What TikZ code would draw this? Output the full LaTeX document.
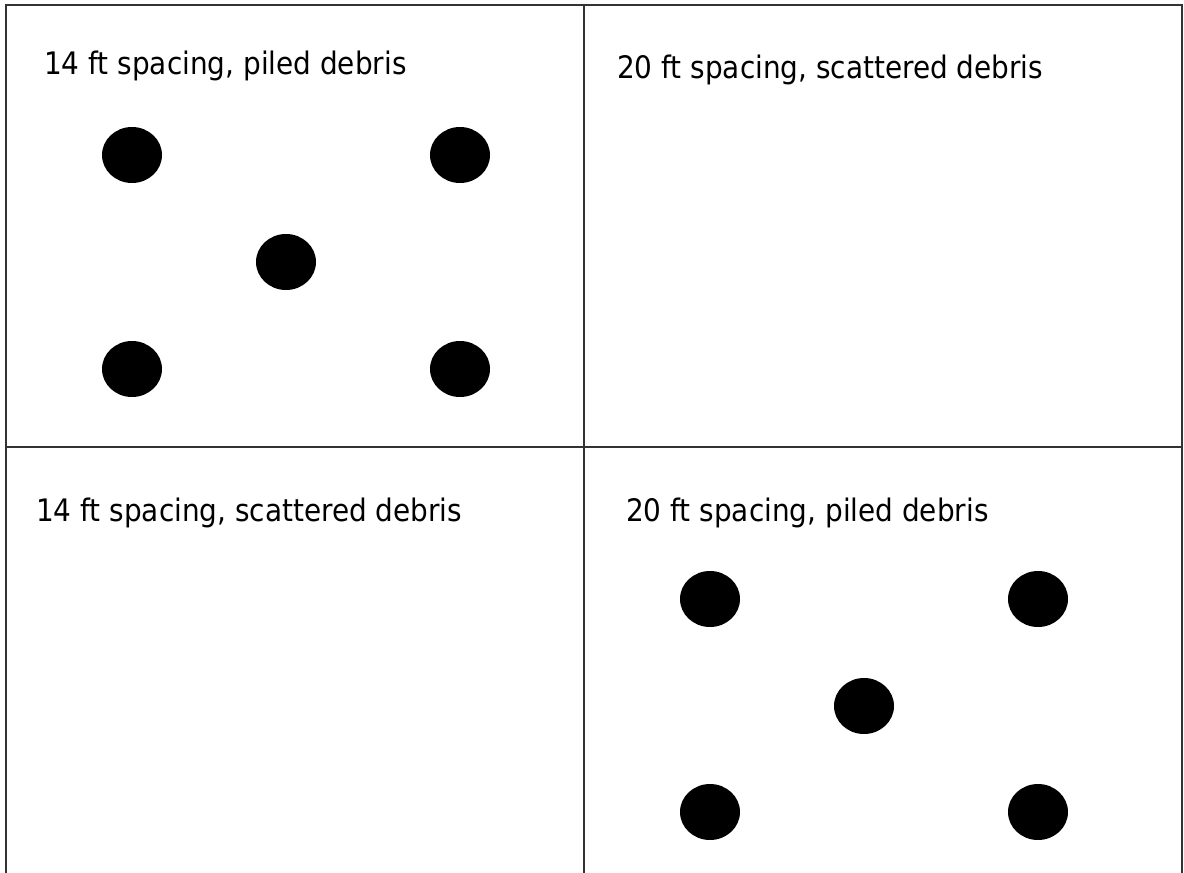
\documentclass[tikz,border=0pt]{standalone}
\usepackage{fontspec}
\setmainfont{DejaVu Sans}[FakeStretch=0.9]
\usetikzlibrary{shapes.geometric}
\begin{document}
\begin{tikzpicture}[x=1pt,y=-1pt,
  frameline/.style={draw=black!80,line width=2pt},
  post/.style={ellipse,fill=black,minimum width=60pt,minimum height=56pt,inner sep=0pt},
  label/.style={anchor=base west,inner sep=0pt,font=\fontsize{31}{36}\selectfont}]
\useasboundingbox (0,0) rectangle (1184,873);
\coordinate (tl) at (6,5);
\coordinate (tr) at (1182,5);
\coordinate (bl) at (6,873);
\coordinate (br) at (1182,873);
\coordinate (tm) at (584,5);
\coordinate (bm) at (584,873);
\coordinate (ml) at (6,447);
\coordinate (mr) at (1182,447);
\draw[frameline] (bl) -- (tl) -- (tr) -- (br);
\draw[frameline] (tm) -- (bm);
\draw[frameline] (ml) -- (mr);
\node[label] (t1) at (44,74) {14 ft spacing, piled debris};
\node[label] (t2) at (617,78) {20 ft spacing, scattered debris};
\node[label] (t3) at (36,521) {14 ft spacing, scattered debris};
\node[label] (t4) at (626,521) {20 ft spacing, piled debris};
\node[post] (a1) at (132,155) {};
\node[post] (a2) at (460,155) {};
\node[post] (a3) at (286,262) {};
\node[post] (a4) at (132,369) {};
\node[post] (a5) at (460,369) {};
\node[post] (b1) at (710,599) {};
\node[post] (b2) at (1038,599) {};
\node[post] (b3) at (864,706) {};
\node[post] (b4) at (710,812) {};
\node[post] (b5) at (1038,812) {};
\end{tikzpicture}
\end{document}
